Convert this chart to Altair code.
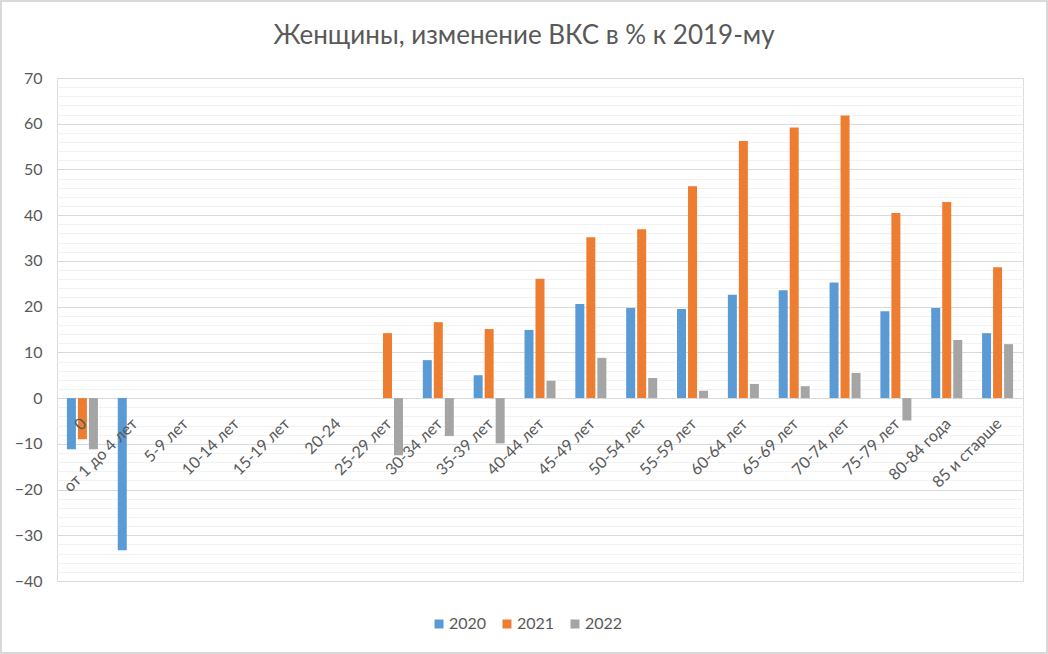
import altair as alt
import pandas as pd

categories = ["0", "от 1 до 4 лет", "5-9 лет", "10-14 лет", "15-19 лет", "20-24",
              "25-29 лет", "30-34 лет", "35-39 лет", "40-44 лет", "45-49 лет",
              "50-54 лет", "55-59 лет", "60-64 лет", "65-69 лет", "70-74 лет",
              "75-79 лет", "80-84 года", "85 и старше"]
years = ["2020", "2021", "2022"]
colors = ["#5B9BD5", "#ED7D31", "#A5A5A5"]

v2020 = [-11.2, -33.3, None, None, None, None, None, 8.3, 5.0, 14.9, 20.6,
         19.7, 19.5, 22.6, 23.6, 25.3, 19.0, 19.7, 14.2]
v2021 = [-9.0, None, None, None, None, None, 14.2, 16.6, 15.1, 26.1, 35.2,
         36.9, 46.3, 56.2, 59.2, 61.8, 40.5, 42.9, 28.6]
v2022 = [-11.2, None, None, None, None, None, -12.5, -8.3, -9.9, 3.8, 8.8,
         4.4, 1.6, 3.1, 2.6, 5.5, -4.9, 12.7, 11.8]

y_ticks = list(range(-40, 71, 2))

rows = []
for year, vals in zip(years, [v2020, v2021, v2022]):
    for c, v in zip(categories, vals):
        if v is not None:
            rows.append({"cat": c, "year": year, "value": v})
df = pd.DataFrame(rows)

W, H = 966, 503
PL, PT, PR, PB = 57, 78, 25, 73
FONT = "Lato"
TXT = "#595959"
ymin, ymax = -40, 70
zero_shift = -H * (0 - ymin) / (ymax - ymin)

bars = alt.Chart(df).mark_bar().encode(
    x=alt.X("cat:N", sort=categories,
            scale=alt.Scale(domain=categories, paddingInner=0.39, paddingOuter=0.195),
            axis=alt.Axis(title=None, orient="bottom", offset=zero_shift, domain=False,
                          ticks=False, labelAngle=-45, labelAlign="right",
                          labelBaseline="top", labelPadding=17, labelOffset=-4,
                          labelFont=FONT, labelFontSize=16, labelColor=TXT,
                          labelOverlap=False, labelLimit=300, zindex=1)),
    xOffset=alt.XOffset("year:N", scale=alt.Scale(domain=years, paddingInner=0.182,
                                                  paddingOuter=0)),
    y=alt.Y("value:Q", scale=alt.Scale(domain=[ymin, ymax], nice=False, zero=False),
            axis=alt.Axis(title=None, values=y_ticks, domain=False, ticks=False,
                          labelExpr="datum.value % 10 === 0 ? datum.label : ''",
                          gridColor={"condition": {"test": "datum.value % 10 === 0",
                                                   "value": "#D9D9D9"},
                                     "value": "#F2F2F2"},
                          gridWidth=1, labelPadding=15, labelFont=FONT,
                          labelFontSize=16, labelColor=TXT)),
    color=alt.Color("year:N", scale=alt.Scale(domain=years, range=colors),
                    legend=alt.Legend(title=None, orient="none", direction="horizontal",
                                      legendX=374, legendY=538, symbolType="square",
                                      symbolSize=81, symbolStrokeWidth=0,
                                      labelFont=FONT, labelFontSize=16, labelColor=TXT,
                                      labelOffset=2, columnPadding=12)),
)

frame = alt.Chart(pd.DataFrame({"f": [0]})).mark_rect(
    fillOpacity=0, stroke="#D9D9D9", strokeWidth=2
).encode(
    x=alt.value(-PL + 1), x2=alt.value(W + PR - 1),
    y=alt.value(-PT + 1), y2=alt.value(H + PB - 1),
)

chart = alt.layer(bars, frame).properties(
    width=W, height=H,
    title=alt.TitleParams("Женщины, изменение ВКС в % к 2019-му", font=FONT,
                          fontSize=26, fontWeight="normal", color=TXT,
                          anchor="middle", dx=-16, offset=-49),
    autosize=alt.AutoSizeParams(type="none"),
    padding={"left": PL, "top": PT, "right": PR, "bottom": PB},
).configure_view(stroke=None).configure(background="white")

chart.save("out.html", embed_options={"renderer": "svg", "actions": False})
